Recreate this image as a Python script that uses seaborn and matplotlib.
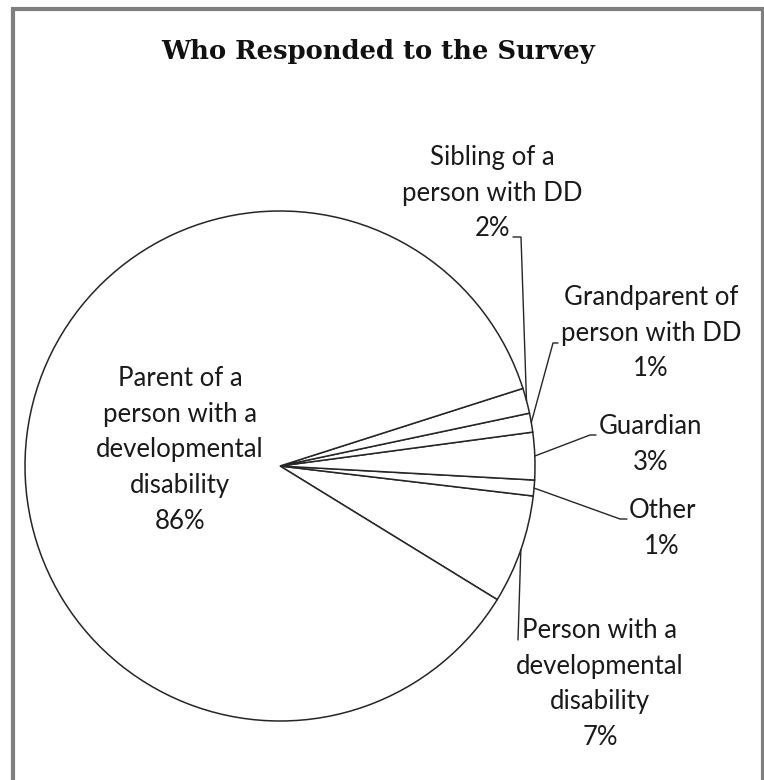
import matplotlib
matplotlib.use("Agg")
import matplotlib.pyplot as plt
import seaborn as sns
import numpy as np

# ---- data ----
categories = ["Person with a\ndevelopmental\ndisability", "Other", "Guardian",
              "Grandparent of\nperson with DD", "Sibling of a\nperson with DD",
              "Parent of a\nperson with a\ndevelopmental\ndisability"]
shares = [6.9, 1.0, 3.0, 1.2, 1.6, 86.3]
title = "Who Responded to the Survey"

sns.set_theme(style="white")
plt.rcParams['font.family'] = ['Lato', 'DejaVu Sans']

W, H = 764, 780
fig = plt.figure(figsize=(W / 100, H / 100), dpi=100)
ax = fig.add_axes([0, 0, 1, 1])

cx, cy, R = 280, H - 466, 255
wedges, _ = ax.pie(shares, startangle=-31.6, counterclock=True,
                   center=(cx, cy), radius=R,
                   colors=['white'] * len(shares),
                   wedgeprops=dict(edgecolor='#262626', linewidth=1.1))
ax.set_xlim(0, W)
ax.set_ylim(0, H)
ax.set_aspect('equal')
ax.axis('off')

# frame
ax.plot([12.5, 12.5, 762.5, 762.5], [-10, H - 8.5, H - 8.5, -10],
        color='#7f7f7f', lw=3, solid_joinstyle='miter', clip_on=False)

ax.text(378.5, H - 52, title, ha='center', va='center',
        fontsize=18.6, fontweight='bold', family='DejaVu Serif', color='#111111')

fs = 18.5
lsp = 1.44 * 1.25 * 17.5 / fs * 0.9
# label block centers (layout), leader-line end paths (layout)
label_pos = [(600, 684), (662, 528.5), (651, 444.5), (651, 333), (492, 193), (180, 450)]
leader_paths = [
    [(518, 640)],
    [(620, 519), (627, 519)],
    [(590, 435), (596, 435)],
    [(553, 343), (558, 343)],
    [(521, 237), (513, 237)],
    None,
]

for w, cat, val, pos, path in zip(wedges, categories, shares, label_pos, leader_paths):
    ax.text(pos[0], H - pos[1], f"{cat}\n{val:.0f}%", ha='center', va='center',
            fontsize=fs, linespacing=lsp, color='#1a1a1a')
    if path is not None:
        mid = np.deg2rad((w.theta1 + w.theta2) / 2)
        x0 = cx + R * np.cos(mid)
        y0 = cy + R * np.sin(mid)
        xs = [x0] + [p[0] for p in path]
        ys = [y0] + [H - p[1] for p in path]
        ax.plot(xs, ys, color='#262626', lw=1.0)

fig.savefig("out.png", dpi=100)
